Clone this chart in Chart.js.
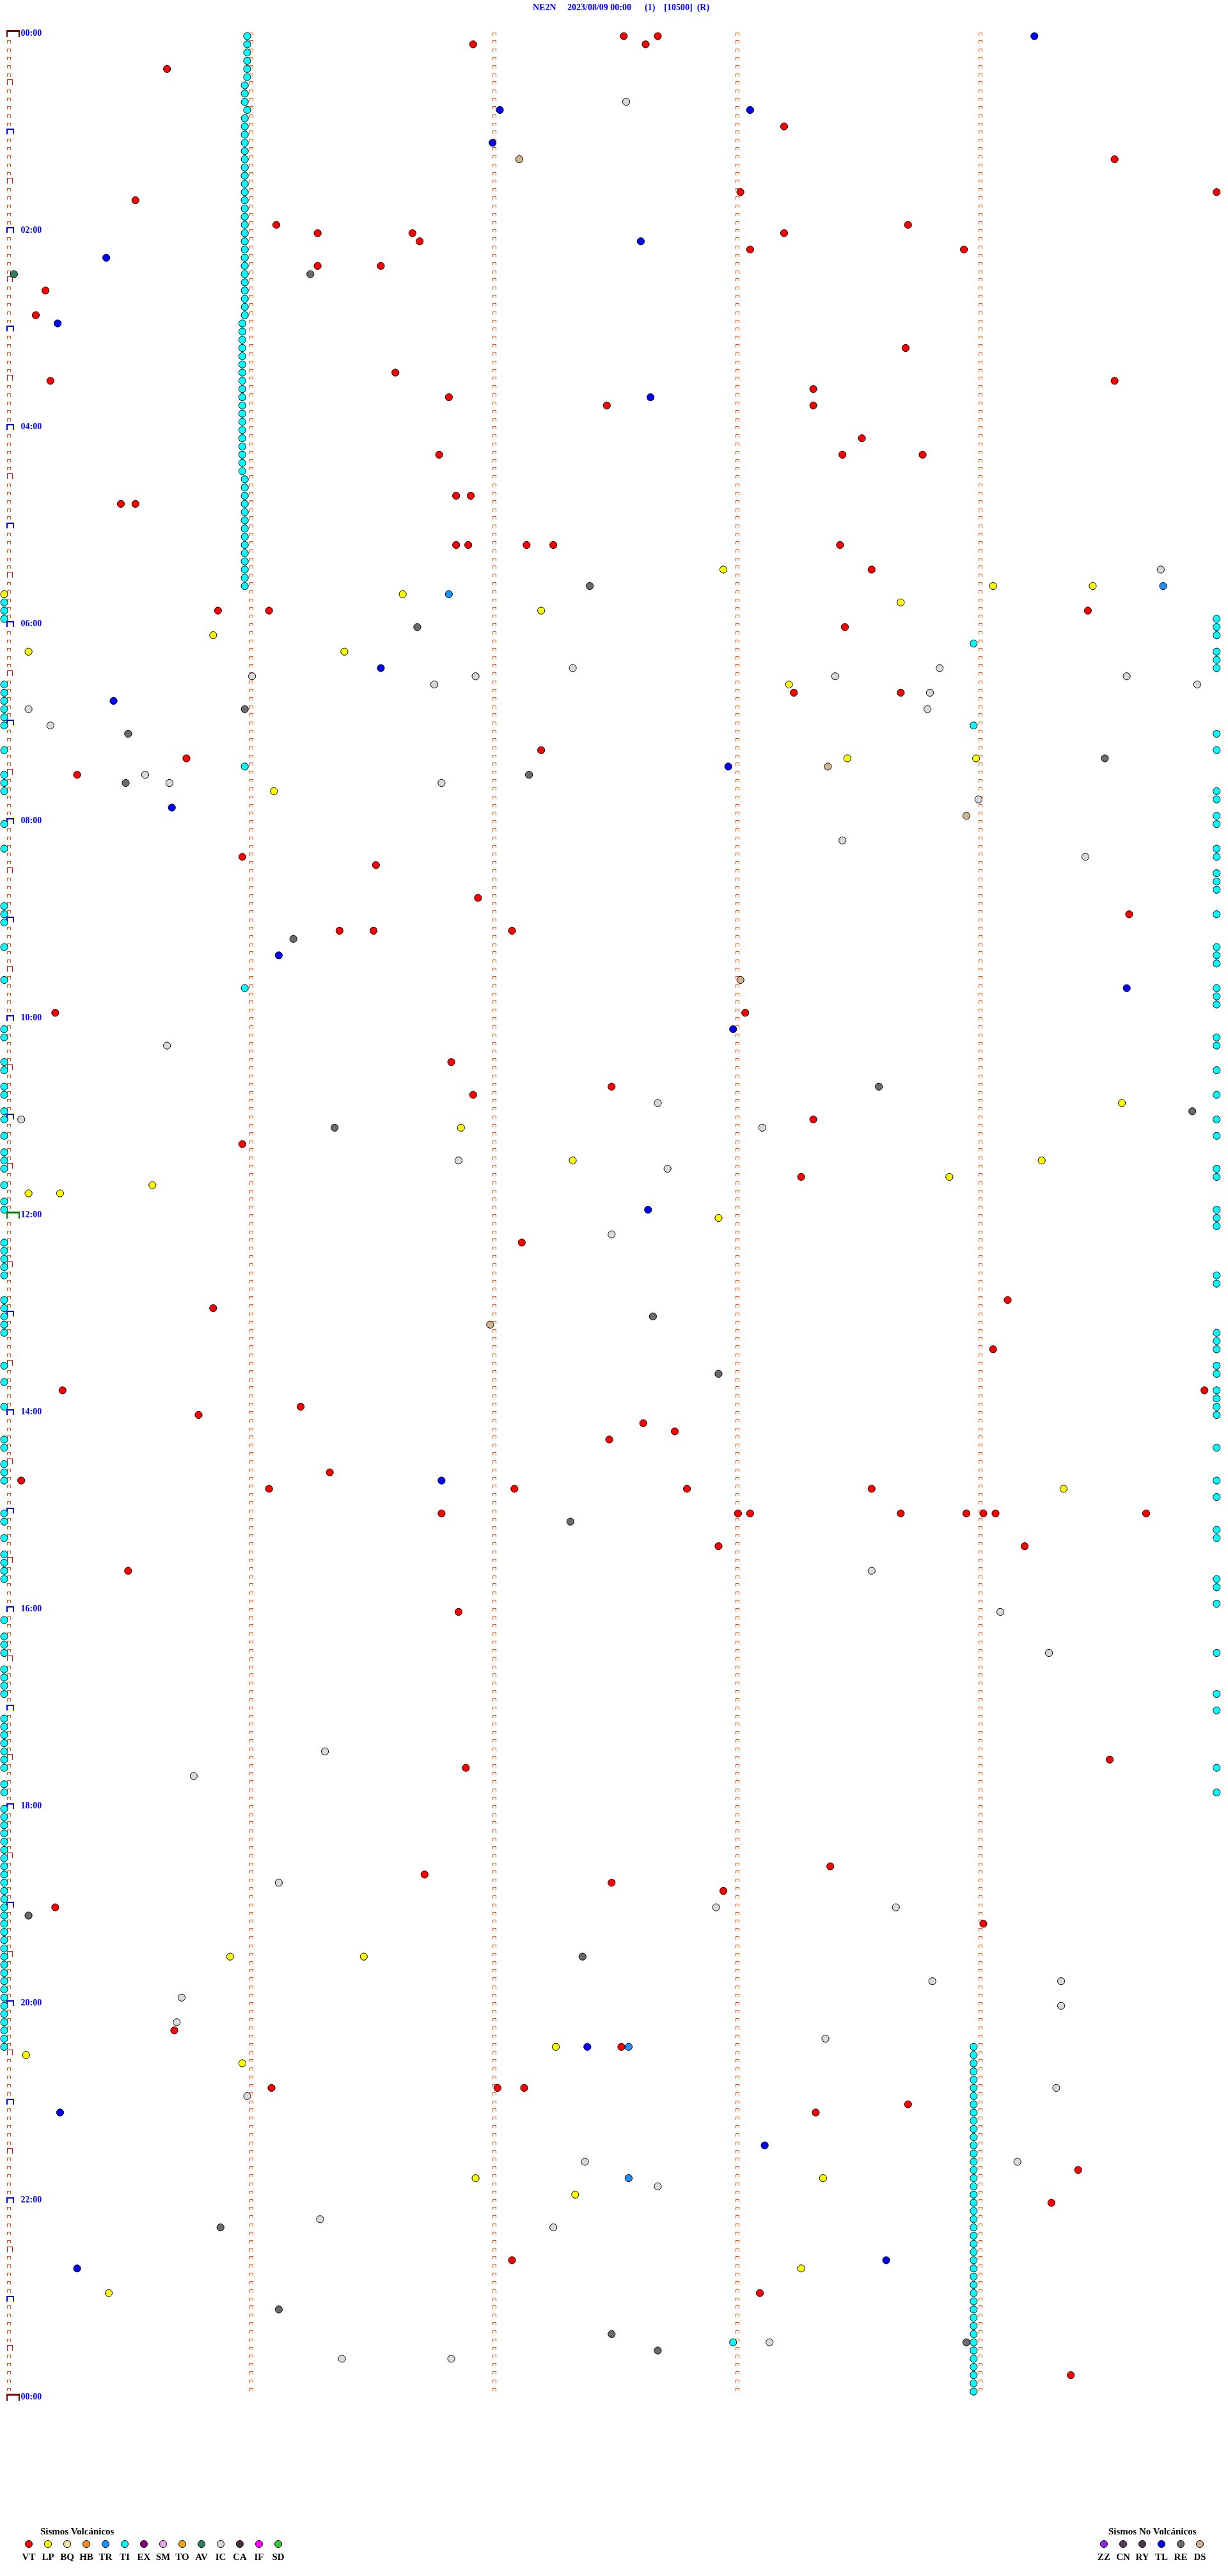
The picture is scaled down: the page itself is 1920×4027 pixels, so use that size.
<!DOCTYPE html>
<html><head><meta charset="utf-8">
<script src="https://cdn.jsdelivr.net/npm/chart.js@4.4.0/dist/chart.umd.min.js"></script>
<style>
html,body{margin:0;padding:0;background:#fff;}
#page{position:relative;width:1920px;height:4027px;overflow:hidden;background:#fff;}
#chartBox{position:absolute;left:0;top:0;width:1920px;height:4027px;}
#title{position:absolute;left:833px;top:4px;font:bold 14px 'Liberation Serif';line-height:16px;color:#0000ff;white-space:pre;}
.lgT{position:absolute;font:bold 15px 'Liberation Serif';line-height:18px;color:#000;white-space:nowrap;}
.lgD{position:absolute;width:10px;height:10px;border:1px solid #000;border-radius:50%;}
.lgL{position:absolute;width:40px;text-align:center;font:bold 15px 'Liberation Serif';line-height:18px;color:#000;}
</style></head>
<body><div id="page">
<div id="chartBox"><canvas id="c"></canvas></div>
<div id="title">NE2N     2023/08/09 00:00      (1)    [10500]  (R)</div>
<div id="legend"></div>
</div>
<script>
// ---- data: event times in minutes after 00:00 (each helicorder line = 5 minutes) ----
const VT = [2.55, 2.69, 6.93, 7.64, 20.67, 58.21, 79.57, 98.03, 99.99, 100.54, 116.12, 118.72, 121.29, 121.68, 123.21, 126.71, 133.07, 133.95, 141.29, 141.55, 155.17, 170.13, 193.71, 206.61, 210.19, 214.57, 218.33, 221.83, 227.48, 228.33, 248.53, 256.79, 258.45, 258.78, 281.86, 281.92, 285.48, 285.54, 311.86, 311.91, 312.15, 312.26, 313.44, 328.57, 350.88, 351.09, 354.46, 363.46, 403.25, 403.69, 437.21, 440.75, 450.30, 500.98, 506.53, 526.95, 539.63, 546.38, 546.52, 547.09, 595.21, 598.05, 626.84, 642.50, 646.93, 663.33, 675.98, 698.28, 737.13, 774.13, 775.86, 804.07, 825.24, 829.94, 836.22, 840.80, 847.63, 852.76, 857.49, 876.34, 880.07, 886.09, 887.10, 887.81, 888.57, 901.80, 903.02, 903.07, 903.69, 903.96, 904.03, 904.08, 904.70, 922.94, 924.20, 935.51, 961.87, 1054.55, 1056.90, 1118.40, 1121.73, 1127.50, 1132.96, 1140.21, 1154.03, 1215.70, 1227.54, 1251.10, 1252.03, 1252.14, 1263.72, 1268.34, 1304.42, 1324.31, 1357.09, 1378.11, 1429.39];
const LP = [327.96, 339.07, 339.48, 340.00, 341.64, 348.69, 352.21, 365.86, 375.10, 376.40, 398.23, 443.47, 444.00, 461.11, 654.60, 666.88, 687.34, 689.27, 698.89, 700.61, 705.10, 705.23, 722.94, 889.36, 1170.93, 1171.48, 1227.27, 1230.09, 1235.98, 1306.94, 1308.37, 1317.35, 1363.28, 1375.43];
const TR = [339.77, 341.83, 1227.57, 1307.57];
const TI = [
  1.00, 6.00, 11.00, 16.00, 21.00, 26.00, 30.99, 35.99, 40.99, 46.00, 50.99, 55.99, 60.99, 65.99, 70.99, 75.99, 80.99, 85.99, 90.99, 95.99,
  100.99, 105.99, 110.99, 115.99, 120.99, 125.99, 130.99, 135.99, 140.99, 145.99, 150.99, 155.99, 160.99, 165.99, 170.99, 175.98, 180.98, 185.98, 190.98, 195.98,
  200.98, 205.98, 210.98, 215.98, 220.98, 225.98, 230.98, 235.98, 240.98, 245.98, 250.98, 255.98, 260.98, 265.98, 270.99, 275.99, 280.99, 285.99, 290.99, 295.99,
  300.99, 305.99, 310.99, 315.99, 320.99, 325.99, 330.99, 335.99,
  373.99, 423.99, 445.99, 580.99, 1408.00,
  345, 350, 355, 395, 400, 405, 410, 415, 420, 435, 450, 455, 460, 480, 495, 530, 535, 540, 555, 575, 605, 610, 625, 630, 640, 645, 655, 660,
  670, 680, 685, 690, 700, 710, 715, 735, 740, 745, 750, 755, 770, 775, 780, 785, 790, 810, 820, 835, 855, 860, 870, 875, 880, 900, 905, 915,
  925, 930, 935, 940, 965, 975, 980, 985, 995, 1000, 1005, 1010, 1025, 1030, 1035, 1040, 1045, 1050, 1055, 1065, 1070,
  1080, 1085, 1090, 1095, 1100, 1105, 1110, 1115, 1120, 1125, 1130, 1135, 1140, 1145, 1150, 1155, 1160, 1165, 1170, 1175, 1180, 1185, 1190, 1195,
  1200, 1205, 1210, 1215, 1220, 1225,
  359.99, 364.99, 369.99, 379.99, 384.99, 389.99, 429.99, 439.99, 464.99, 469.99, 479.99, 484.99, 499.99, 504.99, 514.99, 519.99, 524.99, 539.99,
  559.99, 564.99, 569.99, 584.99, 589.99, 594.99, 614.99, 619.99, 634.99, 649.99, 664.99, 674.99, 694.99, 699.99, 719.99, 724.99, 729.99, 759.99,
  764.99, 794.99, 799.99, 804.99, 814.99, 819.99, 829.99, 834.99, 839.99, 844.99, 864.99, 884.99, 894.99, 914.99, 919.99, 944.99, 949.99, 959.99,
  989.99, 1014.99, 1024.99, 1059.99, 1074.99,
  1228.99, 1233.99, 1238.99, 1243.99, 1248.99, 1253.99, 1258.99, 1263.99, 1268.99, 1273.99, 1278.99, 1283.99, 1288.99, 1293.99, 1298.99, 1303.99,
  1308.99, 1313.99, 1318.99, 1323.99, 1328.99, 1333.99, 1338.99, 1343.99, 1348.99, 1353.99, 1358.99, 1363.99, 1368.99, 1373.99, 1378.99, 1383.99,
  1388.99, 1393.99, 1398.99, 1403.99, 1408.99, 1413.99, 1418.99, 1423.99, 1428.99, 1433.99, 1438.99
];
const AV = [145.04];
const IC = [42.56, 329.76, 387.34, 388.85, 391.02, 391.94, 393.42, 394.62, 396.77, 399.91, 403.81, 410.10, 413.80, 420.19, 450.58, 455.68, 456.80, 469.01, 493.45, 504.45, 615.67, 652.69, 660.07, 668.12, 686.87, 692.73, 732.50, 938.57, 964.10, 989.30, 1046.32, 1060.78, 1126.13, 1142.93, 1143.67, 1188.82, 1189.35, 1195.73, 1204.35, 1210.71, 1223.38, 1254.33, 1256.00, 1297.39, 1299.17, 1312.69, 1331.30, 1337.26, 1408.15, 1416.39, 1416.84];
const TL = [4.24, 47.04, 48.07, 67.01, 127.62, 135.42, 175.22, 222.66, 386.55, 405.45, 447.98, 470.69, 561.13, 584.62, 608.00, 717.65, 881.80, 1227.40, 1265.23, 1288.13, 1358.63, 1360.30];
const RE = [146.26, 337.41, 361.70, 410.99, 425.51, 444.53, 452.16, 455.50, 551.19, 643.60, 659.89, 666.36, 782.67, 817.94, 907.33, 1145.10, 1172.38, 1335.89, 1386.13, 1402.50, 1408.96, 1412.69];
const DS = [77.12, 448.39, 478.96, 578.03, 787.00];

const VOLC_TYPES  = ['VT','LP','BQ','HB','TR','TI','EX','SM','TO','AV','IC','CA','IF','SD'];
const VOLC_COLORS = ['#ff0000','#ffff00','#eee8aa','#ff8c1a','#1e90ff','#00ffff','#800080','#eeaaee','#ffa500','#2e8060','#d9d9d9','#4a2f4a','#ff00ff','#33cc33'];
const NONV_TYPES  = ['ZZ','CN','RY','TL','RE','DS'];
const NONV_COLORS = ['#8a2be2','#554060','#553355','#0000ff','#6b6b6b','#d2b48c'];

const LINE_MIN = 5;          // minutes per helicorder line
const DAY_MIN = 1440;
const TICK_STEP = 120;       // label every 2 hours

const SERIES = {VT, LP, TR, TI, AV, IC, TL, RE, DS};
const colorOf = {};
VOLC_TYPES.forEach((t,i)=>colorOf[t]=VOLC_COLORS[i]);
NONV_TYPES.forEach((t,i)=>colorOf[t]=NONV_COLORS[i]);

function toPoint(t){
  const r = Math.floor(t/LINE_MIN + 1e-9);
  return {x: t - r*LINE_MIN, y: r*LINE_MIN};
}

const datasets = Object.keys(SERIES).map(k=>({
  label:k,
  data:SERIES[k].map(toPoint),
  backgroundColor:colorOf[k],
  borderColor:'#000',
  borderWidth:1,
  pointRadius:5.6,
  pointHoverRadius:5.6,
  clip:false
}));

const gridMarks = {
  id:'gridMarks',
  beforeDatasetsDraw(chart){
    const ctx = chart.ctx, xs = chart.scales.x, ys = chart.scales.y;
    const rows = DAY_MIN/LINE_MIN;
    ctx.save();
    for(let r=0;r<=rows;r++){
      const y = Math.round(ys.getPixelForValue(r*LINE_MIN));
      for(let c=0;c<LINE_MIN;c++){
        if(r===rows && c>0) continue;
        const x = Math.round(xs.getPixelForValue(c));
        if(c===0 && r%144===0){
          ctx.fillStyle = (r===144) ? '#008000' : '#800000';
          ctx.fillRect(x+3,y-10,21,3);
          ctx.fillRect(x+3,y-10,2,11);
          ctx.fillRect(x+22,y-10,2,11);
        } else if(c===0 && r%12===0){
          ctx.fillStyle = '#0000ff';
          ctx.fillRect(x+3,y-9,12,2);
          ctx.fillRect(x+3,y-9,2,9);
          ctx.fillRect(x+13,y-9,2,9);
        } else if(c===0 && r%6===0){
          ctx.fillStyle = '#ff0000';
          ctx.fillRect(x+4,y-9,9,1);
          ctx.fillRect(x+4,y-9,1,9);
          ctx.fillRect(x+12,y-9,1,9);
        } else {
          ctx.fillStyle = '#ff4500';
          ctx.fillRect(x+4,y-6,6,1);
          ctx.fillRect(x+4,y-6,1,5);
          ctx.fillRect(x+9,y-6,1,5);
        }
      }
    }
    ctx.restore();
  }
};

function fmtTick(v){
  const h = Math.floor(v/60)%24;
  return String(h).padStart(2,'0')+':00';
}

new Chart(document.getElementById('c'),{
  type:'scatter',
  data:{datasets},
  options:{
    responsive:true,
    maintainAspectRatio:false,
    animation:false,
    events:[],
    layout:{padding:{left:6,right:14,top:56.5,bottom:275.5}},
    plugins:{legend:{display:false},tooltip:{enabled:false},title:{display:false}},
    scales:{
      x:{type:'linear',min:0,max:LINE_MIN,display:false},
      y:{type:'linear',reverse:true,min:0,max:DAY_MIN,
         afterFit(s){s.width=0;},
         grid:{display:false,drawTicks:false},
         border:{display:false},
         ticks:{stepSize:TICK_STEP,mirror:true,padding:26,labelOffset:-4.5,color:'#0000ff',
                font:{family:'Liberation Serif',weight:'bold',size:14},callback:fmtTick}}
    }
  },
  plugins:[gridMarks]
});

// ---- legend (HTML) ----
const lg = document.getElementById('legend');
function addGroup(title, titleLeft, types, colors, firstX){
  const t = document.createElement('div');
  t.className='lgT'; t.textContent=title;
  t.style.left=titleLeft+'px'; t.style.top='3948px';
  lg.appendChild(t);
  types.forEach((ty,i)=>{
    const cx = firstX + i*30;
    const d = document.createElement('div');
    d.className='lgD'; d.style.background=colors[i];
    d.style.left=(cx-6)+'px'; d.style.top='3971px';
    lg.appendChild(d);
    const l = document.createElement('div');
    l.className='lgL'; l.textContent=ty;
    l.style.left=(cx-20)+'px'; l.style.top='3988px';
    lg.appendChild(l);
  });
}
addGroup('Sismos Volcánicos', 63, VOLC_TYPES, VOLC_COLORS, 45);
addGroup('Sismos No Volcánicos', 1733, NONV_TYPES, NONV_COLORS, 1726);
</script>
</body></html>
